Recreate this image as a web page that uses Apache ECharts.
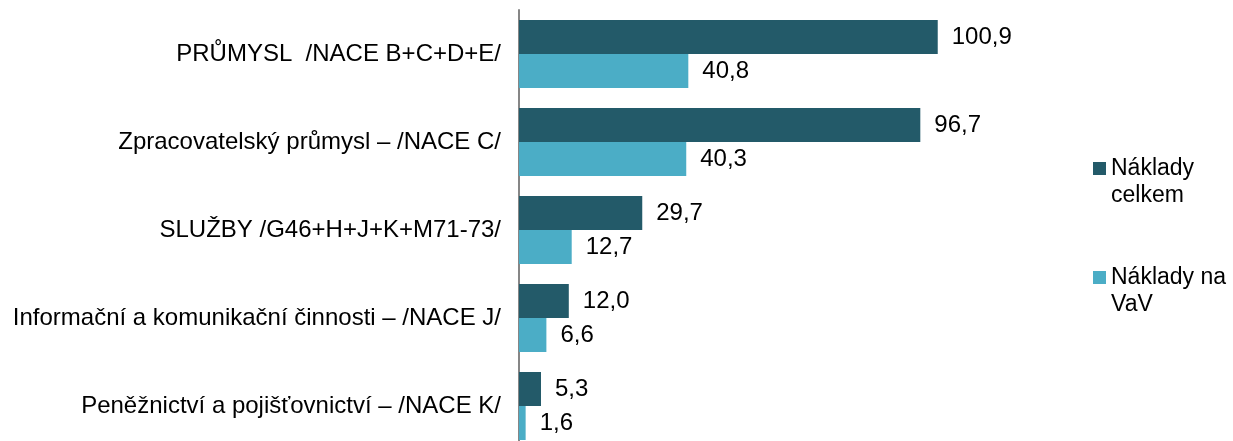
<!DOCTYPE html>
<html>
<head>
    <meta charset="utf-8">
</head>
<body style="margin:0;overflow:hidden">
<!-- graf je v originále dole oříznutý, proto vyšší kontejner -->
<div id="main" style="width: 1233px;height:450px;"></div>
<script src="https://cdn.jsdelivr.net/npm/echarts@6/dist/echarts.min.js"></script>
<script type="text/javascript">
    // odvětví (shora dolů)
    var categories = [
        'PRŮMYSL  /NACE B+C+D+E/',
        'Zpracovatelský průmysl – /NACE C/',
        'SLUŽBY /G46+H+J+K+M71-73/',
        'Informační a komunikační činnosti – /NACE J/',
        'Peněžnictví a pojišťovnictví – /NACE K/'
    ];
    var nakladyCelkem = [100.9, 96.7, 29.7, 12.0, 5.3];
    var nakladyVaV = [40.8, 40.3, 12.7, 6.6, 1.6];

    var fmt = function (p) {
        return p.value.toFixed(1).replace('.', ',');
    };
    var font = 'Liberation Sans, Arial, sans-serif';

    var option = {
        animation: false,
        legend: {
            orient: 'vertical',
            left: 1088,
            top: 123,
            itemWidth: 13,
            itemHeight: 13,
            itemGap: 28,
            icon: 'rect',
            data: ['Náklady celkem', 'Náklady na VaV'],
            // prázdný první řádek, aby ikonka seděla u prvního řádku textu
            formatter: function (name) {
                return name === 'Náklady celkem' ? ' \nNáklady\ncelkem' : ' \nNáklady na\nVaV';
            },
            textStyle: {
                fontFamily: font,
                fontSize: 23,
                lineHeight: 27,
                color: '#000'
            }
        },
        grid: {
            left: 519,
            top: 10,
            width: 498,
            height: 440
        },
        xAxis: {
            type: 'value',
            min: 0,
            max: 120,
            show: false
        },
        yAxis: {
            type: 'category',
            inverse: true,
            data: categories,
            axisTick: { show: false },
            axisLine: { lineStyle: { color: '#868686', width: 2 } },
            axisLabel: {
                margin: 18,
                fontFamily: font,
                fontSize: 24,
                color: '#000'
            }
        },
        series: [
            {
                name: 'Náklady celkem',
                type: 'bar',
                barWidth: 34,
                barGap: '0%',
                data: nakladyCelkem,
                itemStyle: { color: '#235A69' },
                label: {
                    show: true,
                    position: 'right',
                    distance: 14,
                    formatter: fmt,
                    fontFamily: font,
                    fontSize: 24,
                    color: '#000'
                }
            },
            {
                name: 'Náklady na VaV',
                type: 'bar',
                barWidth: 34,
                barGap: '0%',
                data: nakladyVaV,
                itemStyle: { color: '#4BADC6' },
                label: {
                    show: true,
                    position: 'right',
                    distance: 14,
                    formatter: fmt,
                    fontFamily: font,
                    fontSize: 24,
                    color: '#000'
                }
            }
        ]
    };
    var myChart = echarts.init(document.getElementById('main'));
    myChart.setOption(option);
</script>
</body>
</html>
